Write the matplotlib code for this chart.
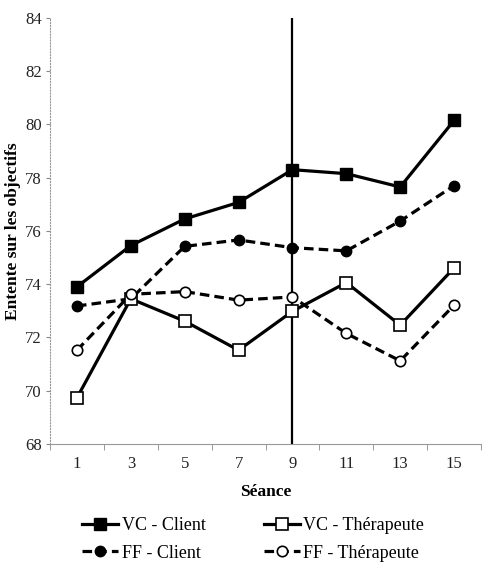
import matplotlib.pyplot as plt
import numpy as np

plt.rcParams['font.family'] = ['Liberation Serif', 'DejaVu Serif']

# sessions and scores
seances = [1, 3, 5, 7, 9, 11, 13, 15]
vc_client = [73.9, 75.45, 76.45, 77.07, 78.3, 78.15, 77.65, 80.15]
vc_therapeute = [69.73, 73.45, 72.61, 71.52, 72.98, 74.06, 72.46, 74.61]
ff_client = [73.18, 73.45, 75.42, 75.66, 75.37, 75.25, 76.37, 77.7]
ff_therapeute = [71.52, 73.62, 73.72, 73.4, 73.52, 72.15, 71.12, 73.21]
y_ticks = [68, 70, 72, 74, 76, 78, 80, 82, 84]

fig = plt.figure(figsize=(4.87, 5.78), dpi=100)
ax = fig.add_axes([0.1027, 0.232, 0.885, 0.737])

lw = 2.3
ax.plot(seances, vc_client, '-', color='black', lw=lw, marker='s', ms=8.5,
        mfc='black', mec='black', label='VC - Client', zorder=3)
ax.plot(seances, ff_client, '--', color='black', lw=lw, marker='o', ms=7.5,
        mfc='black', mec='black', label='FF - Client', dashes=(3, 1.6), zorder=3)
ax.plot(seances, vc_therapeute, '-', color='black', lw=lw, marker='s', ms=8.5,
        mfc='white', mec='black', mew=1.2, label='VC - Thérapeute', zorder=3)
ax.plot(seances, ff_therapeute, '--', color='black', lw=lw, marker='o', ms=7.5,
        mfc='white', mec='black', mew=1.2, label='FF - Thérapeute', dashes=(3, 1.6), zorder=3)

ax.axvline(9, color='black', lw=1.6, zorder=2)

ax.set_xlim(0, 16)
ax.set_ylim(68, 84)
ax.set_yticks(y_ticks)
ax.set_xticks(seances)
ax.set_xticks(np.arange(0, 17, 2), minor=True)
ax.tick_params(axis='x', which='major', length=0, labelsize=12, pad=9, labelcolor='#222222')
ax.tick_params(axis='x', which='minor', length=4, color='#888888')
ax.tick_params(axis='y', length=3, color='#888888', labelsize=12, pad=3, labelcolor='#222222')

ax.spines['top'].set_visible(False)
ax.spines['right'].set_visible(False)
ax.spines['left'].set_color('#999999')
ax.spines['left'].set_linestyle(':')
ax.spines['bottom'].set_color('#999999')

ax.set_xlabel('Séance', fontsize=12.5, fontweight='bold', labelpad=8)
ax.set_ylabel('Entente sur les objectifs', fontsize=12.5, fontweight='bold')
ax.yaxis.set_label_coords(-0.068, 0.5)

fig.legend(loc='lower center', bbox_to_anchor=(0.52, 0.0), ncol=2, frameon=False,
           fontsize=13, handlelength=2.0, handletextpad=0.2, columnspacing=3.2,
           labelspacing=0.6)

fig.savefig('out.png', dpi=100)
